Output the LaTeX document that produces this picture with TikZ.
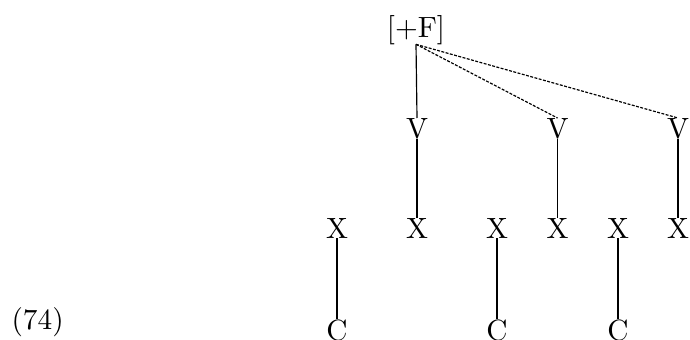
\documentclass[tikz,border=0pt]{standalone}
\begin{document}
\begin{tikzpicture}[x=0.3413pt,y=-0.3413pt,
  seg/.style={inner sep=0pt,outer sep=0pt,anchor=base},
  assoc/.style={line width=0.4pt},
  newassoc/.style={line width=0.4pt,dash pattern=on 1pt off 0.5pt}]
\useasboundingbox (0,0) rectangle (690,339);
\node[seg] (F) at (416,37) {[+F]};
\node[seg] (V1) at (417,138) {V};
\node[seg] (V2) at (557.5,138) {V};
\node[seg] (V3) at (678,138) {V};
\node[seg] (X1) at (337,238) {X};
\node[seg] (X2) at (417,238) {X};
\node[seg] (X3) at (497,238) {X};
\node[seg] (X4) at (557.5,238) {X};
\node[seg] (X5) at (618,238) {X};
\node[seg] (X6) at (678,238) {X};
\node[seg] (C1) at (337,340) {C};
\node[seg] (C2) at (497,340) {C};
\node[seg] (C3) at (618,340) {C};
\node[inner sep=0pt,anchor=base west] (num) at (11,329) {(74)};
\draw[assoc] (F.south) -- (V1.north);
\draw[newassoc] (F.south) -- (V2.north);
\draw[newassoc] (F.south) -- (V3.north);
\draw[assoc] (V1.south) -- (X2.north);
\draw[assoc] (V2.south) -- (X4.north);
\draw[assoc] (V3.south) -- (X6.north);
\draw[assoc] (X1.south) -- (C1.north);
\draw[assoc] (X3.south) -- (C2.north);
\draw[assoc] (X5.south) -- (C3.north);
\end{tikzpicture}
\end{document}
